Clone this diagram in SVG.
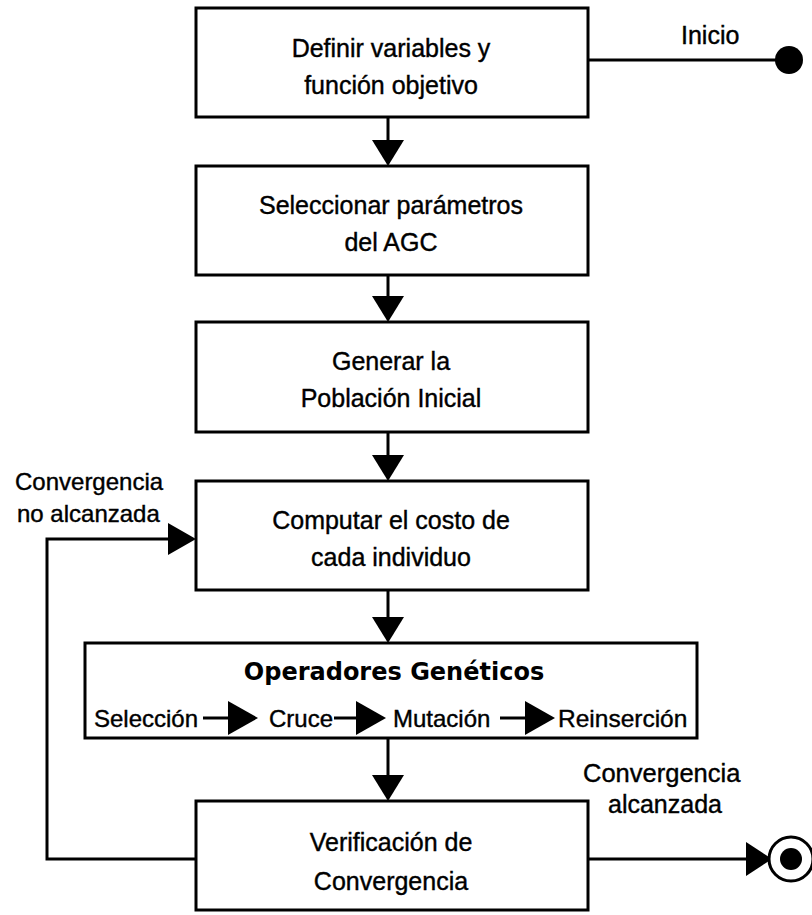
<svg xmlns="http://www.w3.org/2000/svg" width="812" height="915" viewBox="0 0 812 915">
<style>
.box{fill:#fff;stroke:#000;stroke-width:3}
.ln{fill:none;stroke:#000;stroke-width:3}
.t{font-family:"Liberation Sans",Arial,sans-serif;font-size:24px;fill:#000;stroke:#000;stroke-width:0.4}
.n{font-size:25px;text-anchor:middle}
.b{font-family:"DejaVu Sans",Verdana,sans-serif;font-weight:bold;font-size:24px;text-anchor:middle}
.ah{fill:#000}
</style>
<rect width="812" height="915" fill="#fff"/>
<g id="connectors">
  <line class="ln" x1="388" y1="117" x2="388" y2="140"/>
  <polygon class="ah" points="372,140 404,140 388,166"/>
  <line class="ln" x1="388" y1="275" x2="388" y2="296"/>
  <polygon class="ah" points="372,296 404,296 388,322"/>
  <line class="ln" x1="388" y1="432" x2="388" y2="455"/>
  <polygon class="ah" points="372,455 404,455 388,481"/>
  <line class="ln" x1="388" y1="590" x2="388" y2="617"/>
  <polygon class="ah" points="372,617 404,617 388,643"/>
  <line class="ln" x1="388" y1="738" x2="388" y2="775"/>
  <polygon class="ah" points="372,775 404,775 388,801"/>
  <line class="ln" x1="588" y1="60" x2="780" y2="60"/>
  <polyline class="ln" points="196,859 47,859 47,539 170,539"/>
  <polygon class="ah" points="168,523 168,555 196,539"/>
  <line class="ln" x1="588" y1="859" x2="750" y2="859"/>
  <polygon class="ah" points="746,842 746,876 772,859"/>
</g>
<g id="start">
  <circle cx="789" cy="60" r="14" fill="#000"/>
  <text class="t" x="681" y="44" style="font-size:25px">Inicio</text>
</g>
<g id="n1">
  <rect class="box" x="196" y="8" width="392" height="109"/>
  <text class="t n" x="391" y="57">Definir variables y</text>
  <text class="t n" x="391" y="94">función objetivo</text>
</g>
<g id="n2">
  <rect class="box" x="196" y="166" width="392" height="109"/>
  <text class="t n" x="391" y="214">Seleccionar parámetros</text>
  <text class="t n" x="391" y="251">del AGC</text>
</g>
<g id="n3">
  <rect class="box" x="196" y="322" width="392" height="110"/>
  <text class="t n" x="391" y="370">Generar la</text>
  <text class="t n" x="391" y="407">Población Inicial</text>
</g>
<g id="n4">
  <rect class="box" x="196" y="481" width="392" height="109"/>
  <text class="t n" x="391" y="529">Computar el costo de</text>
  <text class="t n" x="391" y="566">cada individuo</text>
</g>
<g id="n5">
  <rect class="box" x="85" y="643" width="612" height="95"/>
  <text class="b" x="394" y="680">Operadores Genéticos</text>
  <text class="t" x="94" y="727">Selección</text>
  <text class="t" x="269" y="727">Cruce</text>
  <text class="t" x="393" y="727">Mutación</text>
  <text class="t" x="558" y="727" style="font-size:24.5px">Reinserción</text>
  <g id="row-arrows">
    <line class="ln" x1="203" y1="718" x2="230" y2="718"/>
    <polygon class="ah" points="228,701 228,735 258,718"/>
    <line class="ln" x1="334" y1="718" x2="358" y2="718"/>
    <polygon class="ah" points="356,701 356,735 386,718"/>
    <line class="ln" x1="500" y1="718" x2="527" y2="718"/>
    <polygon class="ah" points="525,701 525,735 555,718"/>
  </g>
</g>
<g id="n6">
  <rect class="box" x="196" y="801" width="392" height="109"/>
  <text class="t n" x="391" y="851">Verificación de</text>
  <text class="t n" x="391" y="890">Convergencia</text>
</g>
<g id="end">
  <circle cx="791" cy="859" r="22" fill="#fff" stroke="#000" stroke-width="3"/>
  <circle cx="791" cy="859" r="11" fill="#000"/>
</g>
<g id="labels">
  <text class="t" x="15" y="490">Convergencia</text>
  <text class="t" x="17" y="522">no alcanzada</text>
  <text class="t" x="583" y="782" style="font-size:25.5px">Convergencia</text>
  <text class="t" x="608" y="813" style="font-size:25px">alcanzada</text>
</g>
</svg>
